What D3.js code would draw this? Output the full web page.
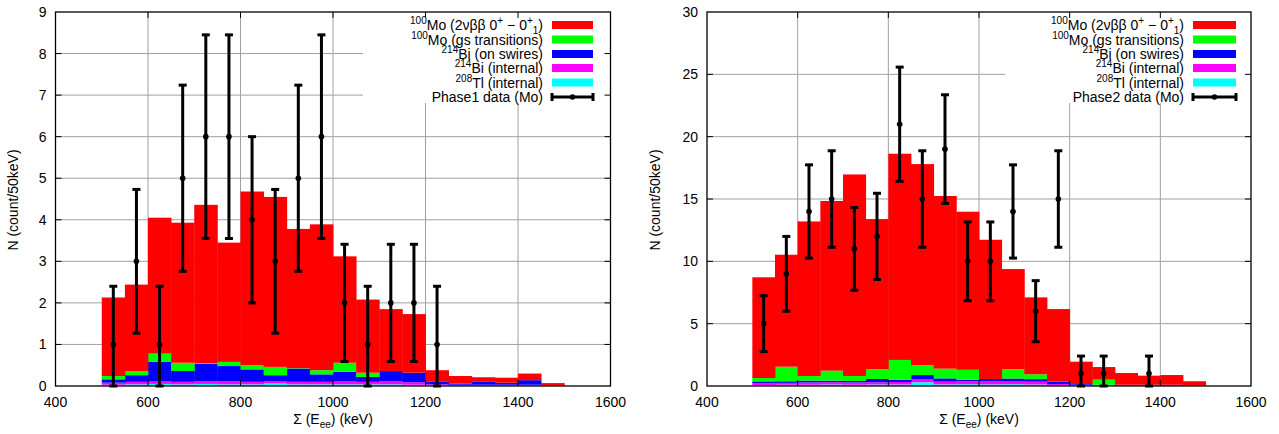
<!DOCTYPE html>
<html><head><meta charset="utf-8">
<script src="https://cdn.jsdelivr.net/npm/d3@7"></script>
<style>body{margin:0;background:#fff;} svg{display:block;font-family:"Liberation Sans",Arial,Helvetica,sans-serif;}</style>
</head><body>
<svg id="c" width="1279" height="434"></svg>
<script>
// ---- data ----
const binStarts = [500,550,600,650,700,750,800,850,900,950,1000,1050,1100,1150,1200,1250,1300,1350,1400,1450];
const seriesKeys = ["cyan","magenta","blue","green","red"]; // bottom to top
const seriesColors = {red:"#ff0000", green:"#00ff00", blue:"#0000ff", magenta:"#ff00ff", cyan:"#00ffff"};
const legendLabels = ["Mo (2νββ 0","Mo (gs transitions)","Bi (on swires)","Bi (internal)","Tl (internal)"];

// Phase 1 (left) component contributions per bin
const p1Red     = [1.89,2.08,3.27,3.37,3.81,2.87,4.18,4.09,3.35,3.51,2.56,1.76,1.49,1.41,0.28,0.18,0.11,0.12,0.16,0.05];
const p1Green   = [0.08,0.10,0.20,0.20,0.02,0.10,0.10,0.20,0.01,0.10,0.22,0.10,0.00,0.00,0.00,0.00,0.00,0.00,0.00,0.00];
const p1Blue    = [0.08,0.16,0.46,0.26,0.42,0.37,0.30,0.14,0.32,0.18,0.23,0.12,0.25,0.23,0.06,0.03,0.07,0.05,0.11,0.01];
const p1Magenta = [0.05,0.06,0.07,0.06,0.06,0.07,0.06,0.06,0.06,0.06,0.07,0.06,0.07,0.06,0.02,0.02,0.02,0.02,0.02,0.005];
const p1Cyan    = [0.03,0.04,0.05,0.04,0.05,0.04,0.04,0.06,0.04,0.04,0.04,0.04,0.04,0.03,0.02,0.01,0.01,0.01,0.01,0.005];

// Phase 2 (right) component contributions per bin
const p2Red     = [8.08,8.98,12.40,13.61,16.17,12.05,16.54,16.14,13.85,12.68,11.17,8.04,6.17,5.82,1.79,1.01,0.94,0.73,0.78,0.33];
const p2Green   = [0.27,1.17,0.37,0.80,0.40,0.78,1.59,0.78,0.78,0.80,0.00,0.74,0.39,0.00,0.00,0.41,0.00,0.00,0.00,0.00];
const p2Blue    = [0.15,0.13,0.15,0.13,0.12,0.26,0.18,0.33,0.26,0.12,0.18,0.20,0.20,0.20,0.06,0.04,0.05,0.05,0.06,0.02];
const p2Magenta = [0.14,0.15,0.18,0.18,0.18,0.18,0.20,0.25,0.22,0.24,0.25,0.26,0.23,0.09,0.06,0.03,0.03,0.03,0.02,0.02];
const p2Cyan    = [0.08,0.10,0.10,0.12,0.10,0.12,0.12,0.30,0.13,0.14,0.13,0.14,0.12,0.06,0.04,0.03,0.02,0.02,0.02,0.01];

// measured data points
const p1Energy = [525,575,625,675,725,775,825,875,925,975,1025,1075,1125,1175,1225];
const p1Count  = [1,3,1,5,6,6,4,3,5,6,2,1,2,2,1];
const p1Low    = [0,1.27,0,2.76,3.55,3.55,2,1.27,2.76,3.55,0.59,0,0.59,0.59,0];
const p1High   = [2.4,4.73,2.4,7.24,8.45,8.45,6,4.73,7.24,8.45,3.41,2.4,3.41,3.41,2.4];

const p2Energy = [525,575,625,675,725,775,825,875,925,975,1025,1075,1125,1175,1225,1275,1375];
const p2Count  = [5,9,14,15,11,12,21,15,19,10,10,14,6,15,1,1,1];
const p2Low    = [2.76,6,10.26,11.13,7.68,8.54,16.42,11.13,14.64,6.84,6.84,10.26,3.55,11.13,0,0,0];
const p2High   = [7.24,12,17.74,18.87,14.32,15.46,25.58,18.87,23.36,13.16,13.16,17.74,8.45,18.87,2.4,2.4,2.4];

const xTicks = [400,600,800,1000,1200,1400,1600];
const p1YTicks = [0,1,2,3,4,5,6,7,8,9];
const p2YTicks = [0,5,10,15,20,25,30];

// ---- drawing ----
const svg = d3.select("#c");

function panel(cfg){
  const x = d3.scaleLinear().domain([400,1600]).range([cfg.x0, cfg.x1]);
  const y = d3.scaleLinear().domain([0, cfg.ymax]).range([386, 12]);
  const g = svg.append("g");
  const grey = "#a0a0a0";

  // grid
  g.selectAll(".gx").data(xTicks.slice(1,-1)).join("line")
    .attr("x1",d=>x(d)).attr("x2",d=>x(d)).attr("y1",y(0)).attr("y2",y(cfg.ymax))
    .attr("stroke",grey).attr("stroke-width",1);
  g.selectAll(".gy").data(cfg.yTicks.slice(1,-1)).join("line")
    .attr("x1",x(400)).attr("x2",x(1600)).attr("y1",d=>y(d)).attr("y2",d=>y(d))
    .attr("stroke",grey).attr("stroke-width",1);
  // legend area masks grid
  g.append("rect").attr("x",cfg.legMaskX).attr("y",y(cfg.ymax)).attr("width",x(1600)-cfg.legMaskX).attr("height",103-y(cfg.ymax)).attr("fill","#fff");

  // stacked histogram
  const rows = binStarts.map((b,i)=>{const r={bin:b}; seriesKeys.forEach(k=>r[k]=cfg.series[k][i]); return r;});
  const stack = d3.stack().keys(seriesKeys)(rows);
  stack.forEach(layer=>{
    g.append("g").selectAll("rect").data(layer).join("rect")
      .attr("x",d=>x(d.data.bin)).attr("width",d=>x(d.data.bin+50)-x(d.data.bin)+0.4)
      .attr("y",d=>y(d[1])).attr("height",d=>Math.max(0,y(d[0])-y(d[1])))
      .attr("fill",seriesColors[layer.key]);
  });

  // border
  g.append("rect").attr("x",x(400)).attr("y",y(cfg.ymax)).attr("width",x(1600)-x(400)).attr("height",y(0)-y(cfg.ymax))
    .attr("fill","none").attr("stroke","#000").attr("stroke-width",1.3);
  // ticks (inward, mirrored)
  const tl=6;
  xTicks.slice(1,-1).forEach(t=>{
    g.append("line").attr("x1",x(t)).attr("x2",x(t)).attr("y1",y(0)).attr("y2",y(0)-tl).attr("stroke","#000");
    g.append("line").attr("x1",x(t)).attr("x2",x(t)).attr("y1",y(cfg.ymax)).attr("y2",y(cfg.ymax)+tl).attr("stroke","#000");
  });
  cfg.yTicks.slice(1,-1).forEach(t=>{
    g.append("line").attr("x1",x(400)).attr("x2",x(400)+tl).attr("y1",y(t)).attr("y2",y(t)).attr("stroke","#000");
    g.append("line").attr("x1",x(1600)).attr("x2",x(1600)-tl).attr("y1",y(t)).attr("y2",y(t)).attr("stroke","#000");
  });
  // tick labels
  g.selectAll(".xl").data(xTicks).join("text").attr("x",d=>x(d)).attr("y",407)
    .attr("text-anchor","middle").attr("font-size",14).text(d=>d);
  g.selectAll(".yl").data(cfg.yTicks).join("text").attr("x",x(400)-9).attr("y",d=>y(d)+5)
    .attr("text-anchor","end").attr("font-size",14).text(d=>d);

  // axis titles
  const xt = g.append("text").attr("x",(x(400)+x(1600))/2).attr("y",424).attr("text-anchor","middle").attr("font-size",14);
  xt.append("tspan").text("Σ (E");
  xt.append("tspan").attr("dy",4).attr("font-size",10).text("ee");
  xt.append("tspan").attr("dy",-4).text(") (keV)");
  g.append("text").attr("transform",`translate(${cfg.ylabX},200) rotate(-90)`).attr("text-anchor","middle")
    .attr("dominant-baseline","central").attr("font-size",14).text("N (count/50keV)");

  // error bars
  const pts = cfg.energy.map((e,i)=>({e, n:cfg.count[i], lo:cfg.low[i], hi:cfg.high[i]}));
  const eb = g.append("g");
  pts.forEach(p=>{
    const cx=x(p.e);
    eb.append("line").attr("x1",cx).attr("x2",cx).attr("y1",y(p.lo)).attr("y2",y(p.hi)).attr("stroke","#000").attr("stroke-width",3);
    [p.lo,p.hi].forEach(v=>eb.append("line").attr("x1",cx-4).attr("x2",cx+4).attr("y1",y(v)).attr("y2",y(v)).attr("stroke","#000").attr("stroke-width",3));
    eb.append("circle").attr("cx",cx).attr("cy",y(p.n)).attr("r",2.8).attr("fill","#000");
  });

  // legend
  const rowsY=[25,39.5,54,68,82.5,97];
  const sups=["100","100","214","214","208"];
  const lg=g.append("g").attr("font-size",14);
  legendLabels.forEach((lab,i)=>{
    const t=lg.append("text").attr("x",cfg.legTextX).attr("y",rowsY[i]+5).attr("text-anchor","end");
    t.append("tspan").attr("dy",-6).attr("font-size",10).text(sups[i]);
    if(i===0){
      t.append("tspan").attr("dy",6).text(lab);
      t.append("tspan").attr("dy",-6).attr("font-size",10).text("+");
      t.append("tspan").attr("dy",6).text(" − 0");
      t.append("tspan").attr("dy",-6).attr("font-size",10).text("+");
      t.append("tspan").attr("dy",10).attr("font-size",10).text("1");
      t.append("tspan").attr("dy",-4).text(")");
    } else {
      t.append("tspan").attr("dy",6).text(lab);
    }
    const key=["red","green","blue","magenta","cyan"][i];
    lg.append("rect").attr("x",cfg.legBoxX).attr("y",rowsY[i]-4).attr("width",cfg.legBoxW).attr("height",8).attr("fill",seriesColors[key]);
  });
  lg.append("text").attr("x",cfg.legTextX).attr("y",rowsY[5]+5).attr("text-anchor","end").text(cfg.dataLabel);
  const ly=rowsY[5], lx0=cfg.legBoxX, lx1=cfg.legBoxX+cfg.legBoxW;
  lg.append("line").attr("x1",lx0).attr("x2",lx1).attr("y1",ly).attr("y2",ly).attr("stroke","#000").attr("stroke-width",3);
  [lx0,lx1].forEach(xx=>lg.append("line").attr("x1",xx).attr("x2",xx).attr("y1",ly-4).attr("y2",ly+4).attr("stroke","#000").attr("stroke-width",3));
  lg.append("circle").attr("cx",(lx0+lx1)/2).attr("cy",ly).attr("r",2.8).attr("fill","#000");
}

panel({x0:55.5,x1:610.5,ymax:9,yTicks:p1YTicks,ylabX:13,legMaskX:363,legTextX:543,legBoxX:552,legBoxW:41,
  series:{red:p1Red,green:p1Green,blue:p1Blue,magenta:p1Magenta,cyan:p1Cyan},
  energy:p1Energy,count:p1Count,low:p1Low,high:p1High,dataLabel:"Phase1 data (Mo)"});
panel({x0:707,x1:1251,ymax:30,yTicks:p2YTicks,ylabX:655,legMaskX:1005,legTextX:1184,legBoxX:1193,legBoxW:43,
  series:{red:p2Red,green:p2Green,blue:p2Blue,magenta:p2Magenta,cyan:p2Cyan},
  energy:p2Energy,count:p2Count,low:p2Low,high:p2High,dataLabel:"Phase2 data (Mo)"});
</script>
</body></html>
